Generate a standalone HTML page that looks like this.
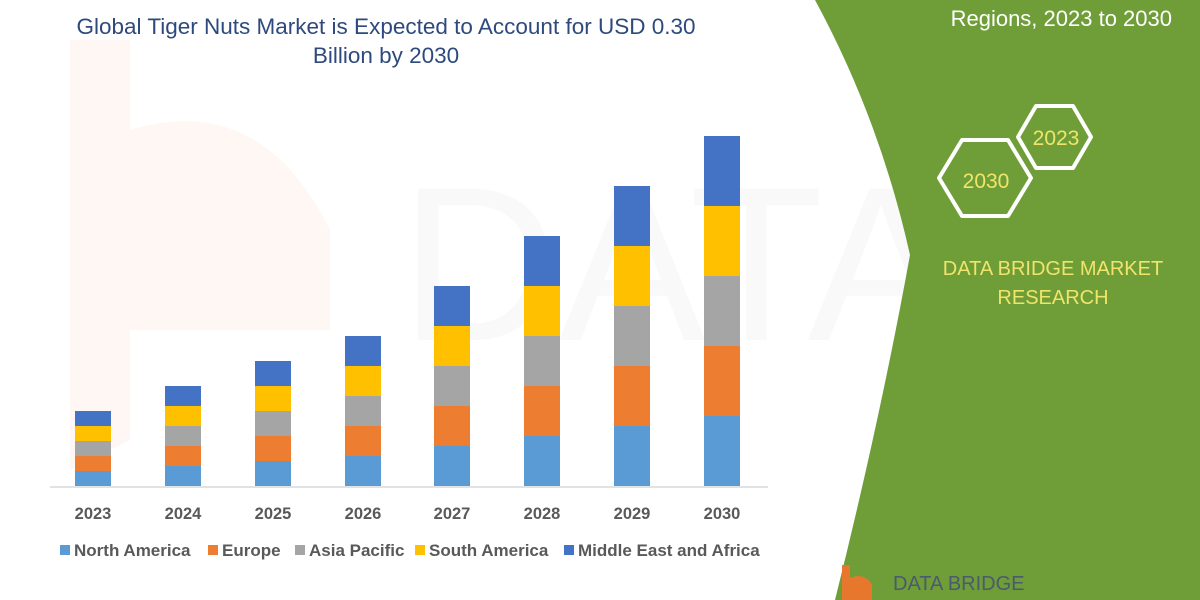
<!DOCTYPE html>
<html><head><meta charset="utf-8"><style>
body{margin:0;width:1200px;height:600px;overflow:hidden;background:#fff;font-family:"Liberation Sans",sans-serif;}
</style></head><body>
<svg width="1200" height="600" xmlns="http://www.w3.org/2000/svg" style="position:absolute;left:0;top:0">
<path d="M70,40 L130,40 L130,130 Q260,90 330,230 L330,330 L130,330 L130,440 L70,470 Z" fill="#fef7f3"/>
<text x="400" y="340" font-size="220" fill="#f9f9f9" font-family="Liberation Sans">DATABRIDGE</text>
<path d="M815,0 L1200,0 L1200,600 L835,600 Q880,420 910,255 Q880,120 815,0 Z" fill="#6f9e39"/>
<text x="1172" y="26" font-size="22" fill="#fff" text-anchor="end">Regions, 2023 to 2030</text>
<polygon points="962,140 1008,140 1031,178 1008,216 962,216 939,178" fill="none" stroke="#fff" stroke-width="4" stroke-linejoin="round"/>
<text x="986" y="188" font-size="21" fill="#f0e46a" text-anchor="middle">2030</text>
<polygon points="1036,106 1073,106 1091,137 1073,168 1036,168 1018,137" fill="none" stroke="#fff" stroke-width="4" stroke-linejoin="round"/>
<text x="1056" y="145" font-size="21" fill="#f0e46a" text-anchor="middle">2023</text>
<text x="1053" y="275" font-size="20" fill="#f0e46a" text-anchor="middle">DATA BRIDGE MARKET</text>
<text x="1053" y="304" font-size="20" fill="#f0e46a" text-anchor="middle">RESEARCH</text>
<path d="M842,565 L850,565 L850,578 Q865,572 872,585 L872,600 L842,600 Z" fill="#e8772e"/>
<text x="893" y="590" font-size="20" fill="#4b5a6e">DATA BRIDGE</text>
<text x="386" y="34" font-size="22.5" fill="#2e4a7d" text-anchor="middle">Global Tiger Nuts Market is Expected to Account for USD 0.30</text>
<text x="386" y="63" font-size="22.5" fill="#2e4a7d" text-anchor="middle">Billion by 2030</text>
<line x1="50" y1="487" x2="768" y2="487" stroke="#d9d9d9" stroke-width="1.5"/>
<g id="bars"></g>
<g font-size="16.5" font-weight="bold" fill="#595959" text-anchor="middle">
<text x="93" y="519">2023</text><text x="183" y="519">2024</text><text x="273" y="519">2025</text><text x="363" y="519">2026</text>
<text x="452" y="519">2027</text><text x="542" y="519">2028</text><text x="632" y="519">2029</text><text x="722" y="519">2030</text>
</g>
<g font-size="17" font-weight="bold" fill="#595959">
<rect x="60" y="545" width="10" height="10" fill="#5b9bd5"/><text x="74" y="556">North America</text>
<rect x="208" y="545" width="10" height="10" fill="#ed7d31"/><text x="222" y="556">Europe</text>
<rect x="295" y="545" width="10" height="10" fill="#a5a5a5"/><text x="309" y="556">Asia Pacific</text>
<rect x="415" y="545" width="10" height="10" fill="#ffc000"/><text x="429" y="556">South America</text>
<rect x="564" y="545" width="10" height="10" fill="#4472c4"/><text x="578" y="556">Middle East and Africa</text>
</g>
</svg>
<script>
var cx=[93,183,273,363,452,542,632,722],seg=[15,20,25,30,40,50,60,70],col=["#5b9bd5","#ed7d31","#a5a5a5","#ffc000","#4472c4"];
var g=document.getElementById("bars"),s="";
for(var i=0;i<8;i++){var y=486;for(var j=0;j<5;j++){y-=seg[i];s+='<rect x="'+(cx[i]-18)+'" y="'+y+'" width="36" height="'+seg[i]+'" fill="'+col[j]+'"/>';}}
g.innerHTML=s;
</script>
</body></html>
